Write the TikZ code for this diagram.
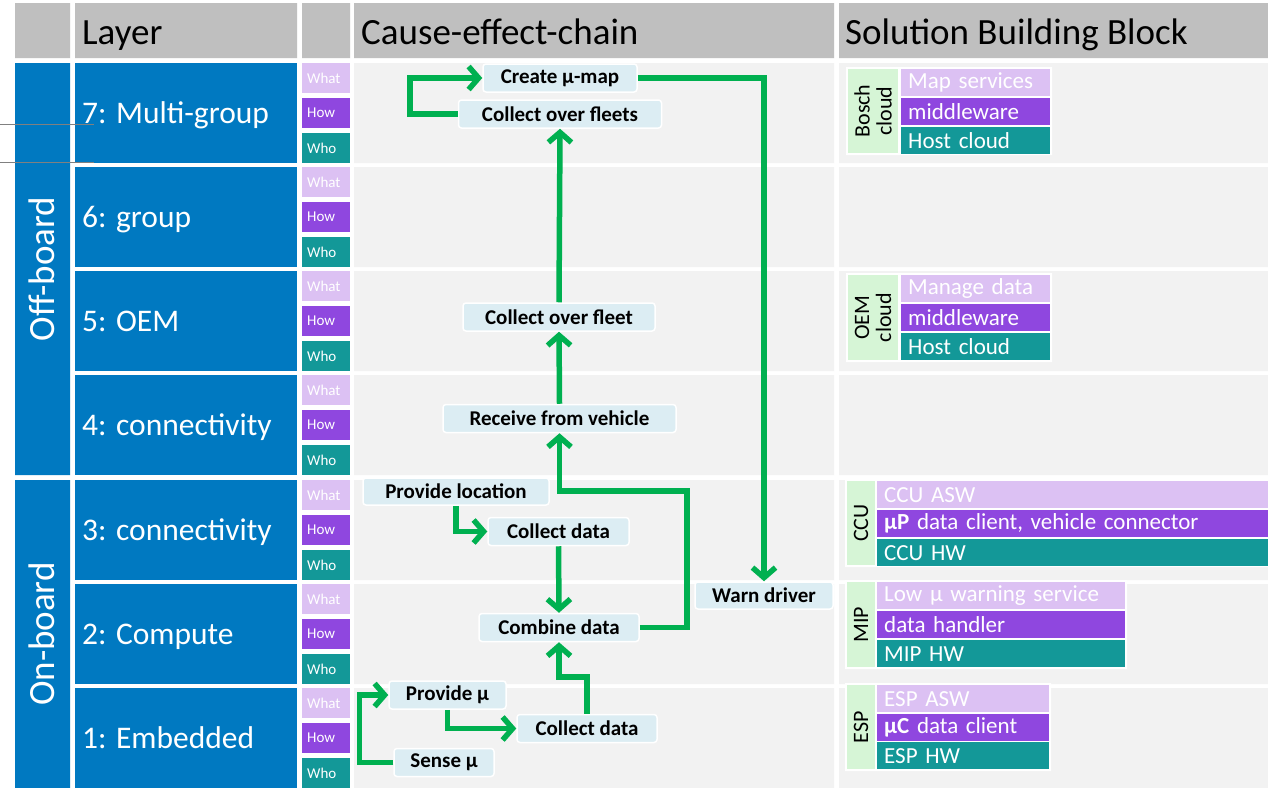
\documentclass[tikz,border=0pt]{standalone}
\usepackage{fontspec}
\setmainfont{Carlito}
\usepackage{tikz}
\usepackage{xcolor}
\usetikzlibrary{arrows.meta, positioning}

\definecolor{headgrey}{HTML}{BFBFBF}
\definecolor{cellgrey}{HTML}{F2F2F2}
\definecolor{layerblue}{HTML}{0079C1}
\definecolor{whatcol}{HTML}{DCC1F3}
\definecolor{howcol}{HTML}{8F47DF}
\definecolor{whocol}{HTML}{139898}
\definecolor{labelgreen}{HTML}{D6F5D6}
\definecolor{boxblue}{HTML}{DCEDF3}
\definecolor{flowgreen}{HTML}{00B050}

\tikzset{
    headtext/.style={anchor=base west, inner sep=0, font=\fontsize{37}{40}\selectfont},
    sidetext/.style={rotate=90, inner sep=0, text=white, font=\fontsize{37}{40}\selectfont},
    layertext/.style={anchor=base west, inner sep=0, text=white, font=\fontsize{31.5}{34}\selectfont},
    wcell/.style={anchor=north west, minimum height=30, text width=38, inner xsep=5, inner ysep=0,
        align=left, text=white, font=\fontsize{15}{17}\selectfont},
    chainbox/.style={draw=white, line width=1.5, fill=boxblue, rounded corners=3, minimum height=28,
        inner sep=0, font=\bfseries\fontsize{21}{24}\selectfont},
    flow/.style={draw=flowgreen, line width=5.5, -{Straight Barb[length=10, width=23]}},
    sbbbar/.style={anchor=north west, minimum height=27, text width=#1, inner xsep=7, inner ysep=0,
        align=left, text=white, font=\fontsize{23}{25}\selectfont},
    sbblabel/.style={rotate=90, fill=labelgreen, inner sep=0, align=center,
        font=\fontsize{22}{22}\selectfont}
}

\begin{document}
\begin{tikzpicture}[x=1pt, y=-1pt]
    \useasboundingbox[fill=white] (0,0) rectangle (1268,787);

    % header
    \fill[headgrey] (15,3) rectangle (70,58) (75,3) rectangle (297,58) (302,3) rectangle (350,58)
        (354,3) rectangle (834,58) (839,3) rectangle (1268,58);
    \node[headtext] (hlayer) at (82,44) {Layer};
    \node[headtext] (hchain) at (361,44) {Cause-effect-chain};
    \node[headtext] (hsbb) at (845,44) {Solution Building Block};

    % off-board / on-board
    \fill[layerblue] (15,63) rectangle (70,475) (15,480) rectangle (70,790);
    \node[sidetext] (offboard) at (42,269) {Off-board};
    \node[sidetext] (onboard) at (42,634) {On-board};

    % layers
    \foreach \t/\n/\lab in {63/7/7: Multi-group, 167/6/6: group, 271/5/5: OEM, 375/4/4: connectivity,
            480/3/3: connectivity, 584/2/2: Compute, 688/1/1: Embedded} {
        \fill[layerblue] (75,\t) rectangle (297,\t+100);
        \fill[cellgrey] (354,\t) rectangle (834,\t+100) (839,\t) rectangle (1268,\t+100);
        \node[layertext] (L\n) at (82,\t+60) {\lab};
        \node[wcell, fill=whatcol] (what\n) at (302,\t) {What};
        \node[wcell, fill=howcol] (how\n) at (302,\t+35) {How};
        \node[wcell, fill=whocol] (who\n) at (302,\t+70) {Who};
    }
    \draw[gray, line width=1] (0,124) -- (94,124) (0,162) -- (94,162);

    % cause-effect-chain
    \node[chainbox, minimum width=154] (cmap) at (560,78) {Create µ-map};
    \node[chainbox, minimum width=203] (cfleets) at (560,114) {Collect over fleets};
    \node[chainbox, minimum width=192] (cfleet) at (559,317) {Collect over fleet};
    \node[chainbox, minimum width=233] (receive) at (559.5,418.5) {Receive from vehicle};
    \node[chainbox, minimum width=186, minimum height=27] (ploc) at (456,491.5) {Provide location};
    \node[chainbox, minimum width=141] (cdata3) at (558.5,531.5) {Collect data};
    \node[chainbox, minimum width=160] (combine) at (559,627.5) {Combine data};
    \node[chainbox, minimum width=138, minimum height=27] (warn) at (764,595.5) {Warn driver};
    \node[chainbox, minimum width=117] (pmu) at (447.5,695) {Provide µ};
    \node[chainbox, minimum width=140] (cdata1) at (587,728.5) {Collect data};
    \node[chainbox, minimum width=100] (smu) at (444,762.5) {Sense µ};
    \coordinate (turn) at (687,491);

    \draw[flow] (smu.west) -- ++(-34,0) |- (pmu.west);
    \draw[flow] (pmu.south) |- (cdata1.west);
    \draw[flow] (cdata1.north) -- ++(0,-37) -| (combine.south);
    \draw[flow] (ploc.south) |- (cdata3.west);
    \draw[flow] (cdata3.south) -- (combine.north);
    \draw[flow] (combine.east) -| (turn) -| (receive.south);
    \draw[flow] (receive.north) -- (cfleet.south);
    \draw[flow] (cfleet.north) -- (cfleets.south);
    \draw[flow] (cfleets.west) -- ++(-48,0) |- (cmap.west);
    \draw[flow] (cmap.east) -| (warn.north);

    % solution building blocks
    \fill[white] (846,67) rectangle (1052,155) (846,273) rectangle (1052,362)
        (845,479) rectangle (1268,567) (845,580) rectangle (1127,669) (845,683) rectangle (1051,771);
    \node[sbblabel, minimum width=84, minimum height=50] (bosch) at (873,111) {Bosch\\cloud};
    \node[sbbbar=135, fill=whatcol] (bosch1) at (901,69) {Map services};
    \node[sbbbar=135, fill=howcol] (bosch2) at (901,98) {middleware};
    \node[sbbbar=135, fill=whocol] (bosch3) at (901,127) {Host cloud};
    \node[sbblabel, minimum width=85, minimum height=50] (oem) at (873,317.5) {OEM\\cloud};
    \node[sbbbar=135, fill=whatcol] (oem1) at (901,275) {Manage data};
    \node[sbbbar=135, fill=howcol] (oem2) at (901,304) {middleware};
    \node[sbbbar=135, fill=whocol] (oem3) at (901,333) {Host cloud};
    \node[sbblabel, minimum width=84, minimum height=28] (ccu) at (861,523) {CCU};
    \node[sbbbar=377, fill=whatcol] (ccu1) at (877,481) {CCU ASW};
    \node[sbbbar=377, fill=howcol] (ccu2) at (877,510) {\textbf{µP} data client, vehicle connector};
    \node[sbbbar=377, fill=whocol] (ccu3) at (877,539) {CCU HW};
    \node[sbblabel, minimum width=85, minimum height=28] (mip) at (861,624.5) {MIP};
    \node[sbbbar=234, fill=whatcol] (mip1) at (877,582) {Low µ warning service};
    \node[sbbbar=234, fill=howcol] (mip2) at (877,611) {data handler};
    \node[sbbbar=234, fill=whocol] (mip3) at (877,640) {MIP HW};
    \node[sbblabel, minimum width=84, minimum height=28] (esp) at (861,727) {ESP};
    \node[sbbbar=158, fill=whatcol] (esp1) at (877,685) {ESP ASW};
    \node[sbbbar=158, fill=howcol] (esp2) at (877,714) {\textbf{µC} data client};
    \node[sbbbar=158, fill=whocol] (esp3) at (877,742) {ESP HW};
\end{tikzpicture}
\end{document}
